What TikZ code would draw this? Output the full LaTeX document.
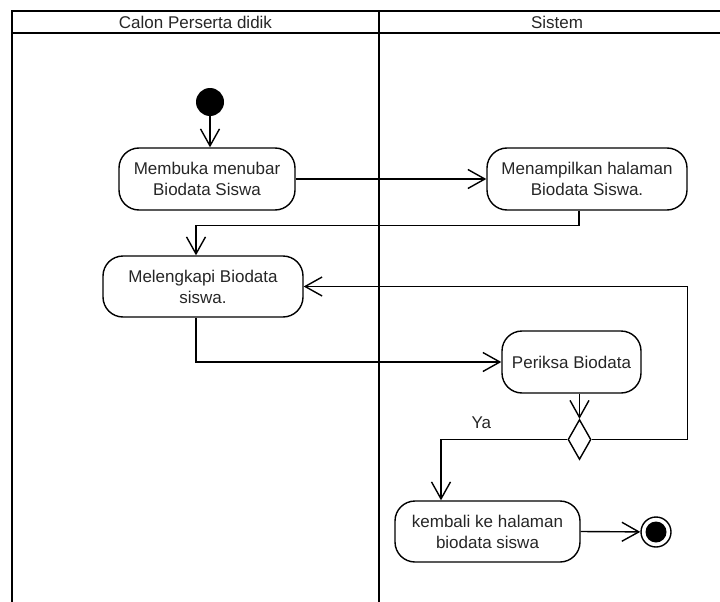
\documentclass[tikz,border=0pt]{standalone}
\usepackage{fontspec}
\setmainfont{Liberation Sans}
\usepackage{tikz}
\usetikzlibrary{arrows.meta, shapes.geometric}
\tikzset{lane/.style={draw=black, line width=2.8pt}}
\tikzset{actbox/.style={draw, line width=1.4pt, rounded corners=20pt, align=center, text=black!85, inner sep=0pt, minimum height=62pt}}
\tikzset{arr/.style={draw, line width=1.4pt, -{Straight Barb[length=17pt, width=19pt, line width=1.4pt]}}}
\tikzset{laneText/.style={text=black!85, inner sep=0pt}}

\begin{document}
\begin{tikzpicture}[x=1pt, y=-1pt, font=\fontsize{17}{21}\selectfont]
		\useasboundingbox (0,0) rectangle (720,602);
		% swimlanes
		\draw[lane] (12,602) -- (12,11) -- (735,11);
		\draw[lane] (12,33) -- (735,33);
		\draw[lane] (379,11) -- (379,602);
		\node[laneText] (hdrA) at (195.5,22) {Calon Perserta didik};
		\node[laneText] (hdrB) at (557,22) {Sistem};

		\node[circle, fill=black, minimum size=28pt, inner sep=0pt] (start) at (210,102) {};
		\node[actbox, minimum width=176pt] (buka) at (207,179) {Membuka menubar\\Biodata Siswa};
		\node[actbox, minimum width=200pt] (tampil) at (587,179) {Menampilkan halaman\\Biodata Siswa.};
		\node[actbox, minimum width=200pt, minimum height=61pt] (lengkap) at (203,286.5) {Melengkapi Biodata\\siswa.};
		\node[actbox, minimum width=139pt] (periksa) at (571.5,362) {Periksa Biodata};
		\node[diamond, draw, line width=1.4pt, minimum width=23pt, minimum height=40pt, inner sep=0pt] (cek) at (579.5,439.5) {};
		\node[actbox, minimum width=185pt, minimum height=61pt] (kembali) at (487.5,531.5) {kembali ke halaman\\biodata siswa};
		\node[circle, draw, line width=1.4pt, minimum size=30pt, inner sep=0pt,
			path picture={\fill (path picture bounding box.center) circle (10.5pt);}] (stop) at (656,532) {};

		\draw[arr] (start) -- (start.south |- buka.north);
		\draw[arr] (buka.east) -- (tampil.west);
		\draw[arr] ([xshift=-8pt]tampil.south) -- ++(0,15) -| ([xshift=-7pt]lengkap.north);
		\draw[arr] ([xshift=-7pt]lengkap.south) |- (periksa.west);
		\draw[arr] (periksa.south -| cek) -- (cek.north);
		\draw[arr] (cek.west) -|
			node[above=10pt, pos=0.34, inner sep=0pt, text=black!85] {Ya}
			([xshift=-46.5pt]kembali.north);
		\draw[arr] (cek.east) -| (tampil.east |- lengkap) -- (lengkap.east);
		\draw[arr] (kembali.east) -- (stop);
	\end{tikzpicture}
\end{document}
